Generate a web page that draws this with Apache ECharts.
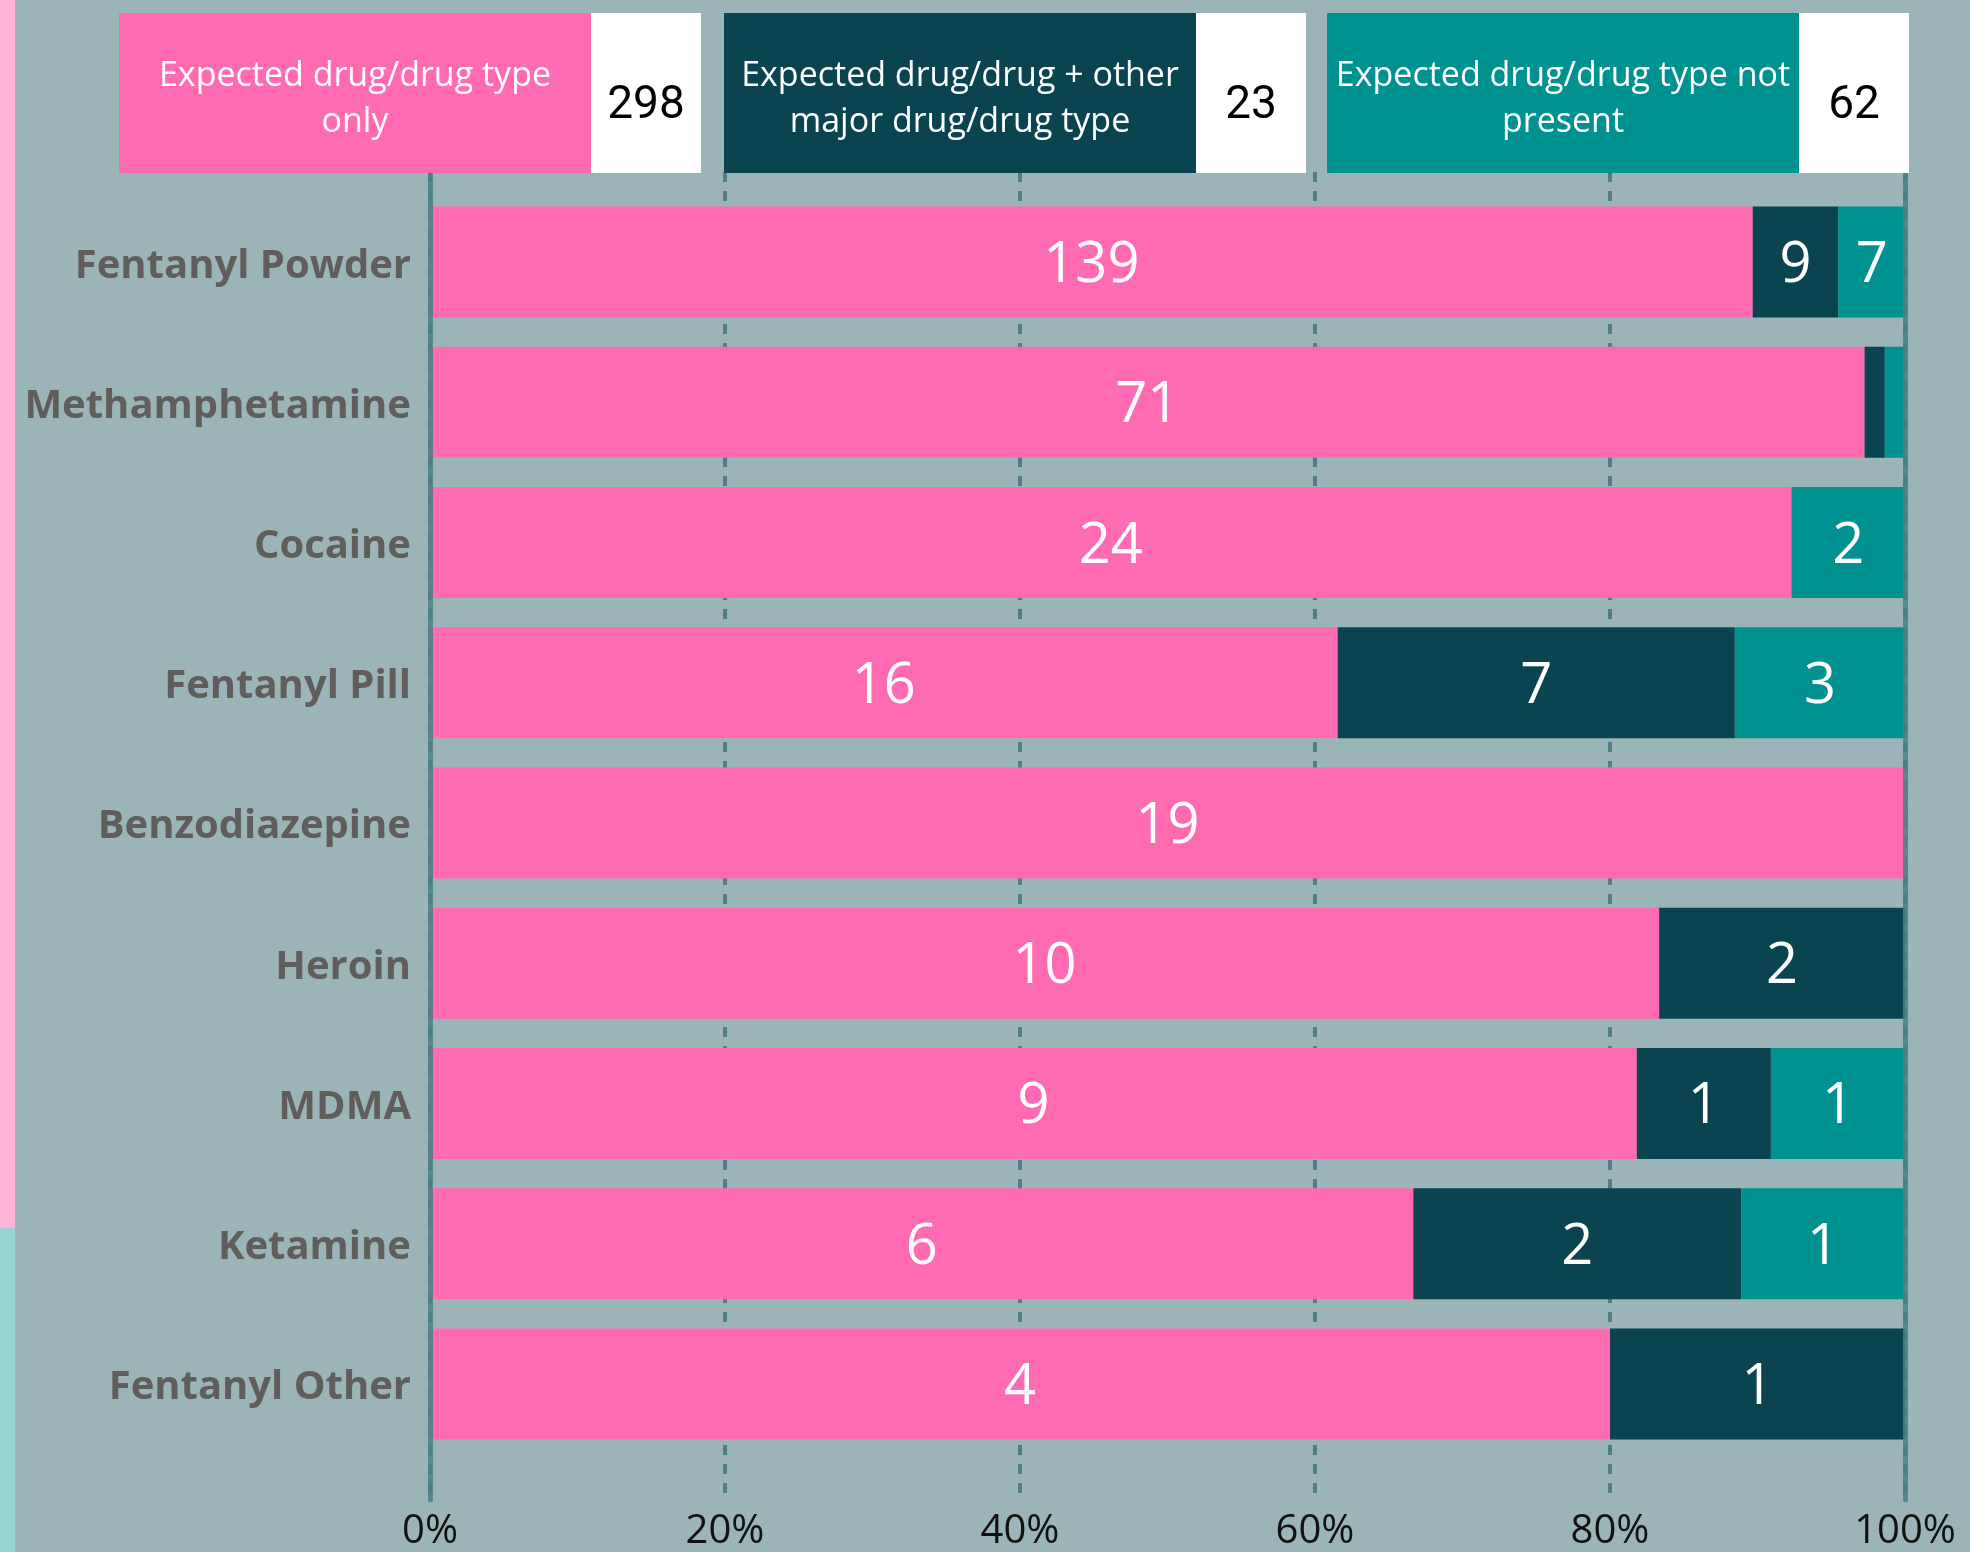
<!DOCTYPE html>
<html>
<head>
<meta charset="utf-8">
<script src="https://cdn.jsdelivr.net/npm/echarts@6/dist/echarts.min.js"></script>
<style>
  html, body {margin: 0; padding: 0; background: #9bb4b8;}
  #main {width: 1970px; height: 1552px;}
</style>
</head>
<body>
<div id="main"></div>
<script>
// categories, top to bottom
const drugs = ['Fentanyl Powder', 'Methamphetamine', 'Cocaine', 'Fentanyl Pill', 'Benzodiazepine',
    'Heroin', 'MDMA', 'Ketamine', 'Fentanyl Other'];
// counts per result type
const onlyExpected = [139, 71, 24, 16, 19, 10, 9, 6, 4];
const plusOther = [9, 1, 0, 7, 0, 2, 1, 2, 1];
const notPresent = [7, 1, 2, 3, 0, 0, 1, 1, 0];

const seriesNames = ['Expected drug/drug type only', 'Expected drug/drug + other major drug/drug type',
    'Expected drug/drug type not present'];
const legendLines = [['Expected drug/drug type', 'only'], ['Expected drug/drug + other', 'major drug/drug type'],
    ['Expected drug/drug type not', 'present']];
const legendTotals = [298, 23, 62];
const colors = ['#ff6bb1', '#0a4450', '#009290'];

const xTicks = [0, 20, 40, 60, 80, 100];

const counts = [onlyExpected, plusOther, notPresent];
const totals = drugs.map((d, i) => onlyExpected[i] + plusOther[i] + notPresent[i]);

let myChart = echarts.init(document.getElementById('main'));

// legend boxes on top (coloured box + white count box)
const legendX = [119, 724, 1327];
let graphics = [
    {type: 'rect', shape: {x: 0, y: 0, width: 15, height: 1228}, style: {fill: '#ffb3d7'}},
    {type: 'rect', shape: {x: 0, y: 1228, width: 15, height: 324}, style: {fill: '#98d3d3'}}
];
legendX.forEach((x0, k) => {
    graphics.push({type: 'rect', shape: {x: x0, y: 13, width: 472, height: 160}, style: {fill: colors[k]}, z: 10});
    graphics.push({type: 'rect', shape: {x: x0 + 472, y: 13, width: 110, height: 160}, style: {fill: '#ffffff'}, z: 10});
    graphics.push({
        type: 'text', x: x0 + 236, y: 99, z: 11,
        style: {
            text: legendLines[k].join('\n'), fill: '#ffffff', fontSize: 34, lineHeight: 46,
            fontFamily: 'Open Sans', align: 'center', verticalAlign: 'middle'
        }
    });
    graphics.push({
        type: 'text', x: x0 + 527, y: 106, z: 11,
        style: {
            text: String(legendTotals[k]), fill: '#000000', fontSize: 46,
            fontFamily: 'Roboto', align: 'center', verticalAlign: 'middle'
        }
    });
});

const lineColor = '#4e7f86';

myChart.setOption({
    backgroundColor: '#9bb4b8',
    animation: false,
    graphic: graphics,
    grid: [
        {left: 430, right: 65, top: 192, bottom: 98},
        {left: 430, right: 65, top: 172, bottom: 52}
    ],
    xAxis: [
        {gridIndex: 0, type: 'value', min: 0, max: 100, show: false},
        {
            gridIndex: 1, type: 'value', min: 0, max: 100, interval: 20,
            axisLine: {show: false},
            axisTick: {show: false},
            axisLabel: {
                formatter: v => xTicks.indexOf(v) >= 0 ? v + '%' : '',
                fontSize: 40, color: '#111', fontFamily: 'Open Sans', margin: 12
            },
            splitLine: {show: true, lineStyle: {color: lineColor, width: 4, type: [10, 9]}}
        }
    ],
    yAxis: [
        {
            gridIndex: 0, type: 'category', data: drugs, inverse: true,
            axisLine: {show: false}, axisTick: {show: false},
            axisLabel: {
                fontSize: 40, fontWeight: 'bold', color: '#605e5c', fontFamily: 'Open Sans', margin: 19,
                verticalAlign: 'top', lineHeight: 8
            }
        },
        {
            gridIndex: 1, type: 'value', min: 0, max: 1, z: 5,
            axisLine: {show: true, lineStyle: {color: lineColor, width: 5, cap: 'round', opacity: 0.85}},
            axisTick: {show: false}, axisLabel: {show: false}, splitLine: {show: false}
        },
        {
            gridIndex: 1, type: 'value', min: 0, max: 1, position: 'right', z: 5,
            axisLine: {show: true, lineStyle: {color: lineColor, width: 5, cap: 'round', opacity: 0.85}},
            axisTick: {show: false}, axisLabel: {show: false}, splitLine: {show: false}
        }
    ],
    series: counts.map((arr, s) => ({
        name: seriesNames[s],
        type: 'bar',
        stack: 'total',
        xAxisIndex: 0,
        yAxisIndex: 0,
        barWidth: 111,
        itemStyle: {color: colors[s]},
        label: {
            show: true,
            position: 'inside',
            offset: [0, 4],
            color: '#ffffff',
            fontSize: 56,
            fontFamily: 'Open Sans',
            formatter: p => (arr[p.dataIndex] > 0 && p.value > 4) ? String(arr[p.dataIndex]) : ''
        },
        data: arr.map((v, i) => v / totals[i] * 100)
    }))
});
</script>
</body>
</html>
